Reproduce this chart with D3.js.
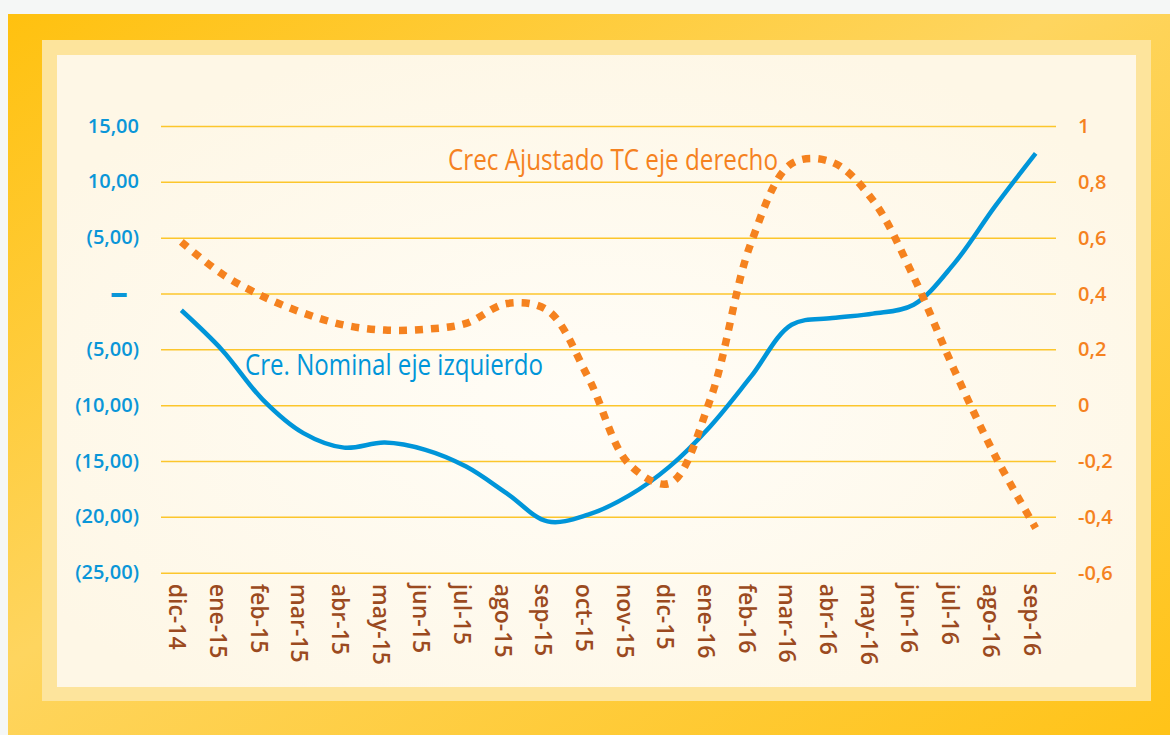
<!DOCTYPE html>
<html>
<head>
<meta charset="utf-8">
<script src="https://cdn.jsdelivr.net/npm/d3@7"></script>
<style>
  body { margin: 0; background: #f5f7f6; }
  svg { display: block; }
  .axis text { font-family: 'Open Sans', sans-serif; font-weight: 600; }
  .left-axis text { font-size: 20px; fill: #0a96d8; }
  .right-axis text { font-size: 20px; fill: #f5821f; }
  .x-axis text { font-size: 23px; fill: #9b4a20; }
  .note { font-family: 'Open Sans', sans-serif; font-size: 30px; }
</style>
</head>
<body>
<div id="chart"></div>
<script>
const width = 1170;
const height = 735;

// categories and series
const months = ['dic-14', 'ene-15', 'feb-15', 'mar-15', 'abr-15', 'may-15', 'jun-15', 'jul-15',
  'ago-15', 'sep-15', 'oct-15', 'nov-15', 'dic-15', 'ene-16', 'feb-16', 'mar-16', 'abr-16',
  'may-16', 'jun-16', 'jul-16', 'ago-16', 'sep-16'];
const nominal = [-1.5, -5.05, -9.5, -12.5, -13.8, -13.35, -14.0, -15.5, -17.9, -20.4, -19.8,
  -18.1, -15.5, -11.9, -7.45, -2.8, -2.2, -1.8, -1.0, 2.7, 7.8, 12.55];
const ajustado = [0.585, 0.47, 0.39, 0.33, 0.287, 0.269, 0.272, 0.293, 0.364, 0.34, 0.10,
  -0.21, -0.28, 0.02, 0.58, 0.865, 0.87, 0.734, 0.46, 0.126, -0.18, -0.44];

const leftTicks = [15, 10, 5, 0, -5, -10, -15, -20, -25];
const leftTickLabels = ['15,00', '10,00', '(5,00)', '\u2013', '(5,00)', '(10,00)', '(15,00)', '(20,00)', '(25,00)'];
const rightTicks = [1, 0.8, 0.6, 0.4, 0.2, 0, -0.2, -0.4, -0.6];
const rightTickLabels = ['1', '0,8', '0,6', '0,4', '0,2', '0', '-0,2', '-0,4', '-0,6'];

const plot = { left: 161, right: 1056, top: 126, bottom: 572.7 };

const svg = d3.select('#chart').
append('svg').
attr('width', width).
attr('height', height);

//Backgrounds: orange frame, light band, cream panel
const defs = svg.append('defs');
const frameGrad = defs.append('linearGradient').attr('id', 'frameGrad').
attr('x1', '0%').attr('y1', '0%').attr('x2', '100%').attr('y2', '100%');
frameGrad.append('stop').attr('offset', '0%').attr('stop-color', '#ffc10f');
frameGrad.append('stop').attr('offset', '45%').attr('stop-color', '#fed55f');
frameGrad.append('stop').attr('offset', '100%').attr('stop-color', '#ffc318');

const panelGrad = defs.append('radialGradient').attr('id', 'panelGrad').
attr('cx', '50%').attr('cy', '55%').attr('r', '60%');
panelGrad.append('stop').attr('offset', '0%').attr('stop-color', '#fffdf7');
panelGrad.append('stop').attr('offset', '100%').attr('stop-color', '#fef7e6');

svg.append('rect').attr('x', 8).attr('y', 14).attr('width', width - 8).attr('height', height - 14).
attr('fill', 'url(#frameGrad)');
svg.append('rect').attr('x', 42).attr('y', 40).attr('width', 1151 - 42).attr('height', 701 - 40).
attr('fill', '#fde49c');
svg.append('rect').attr('x', 57).attr('y', 55).attr('width', 1136 - 57).attr('height', 687 - 55).
attr('fill', 'url(#panelGrad)');

//Scales
const x = d3.scalePoint().domain(months).range([plot.left, plot.right]).padding(0.5);
const yLeft = d3.scaleLinear().domain([-25, 15]).range([plot.bottom, plot.top]);
const yRight = d3.scaleLinear().domain([-0.6, 1]).range([plot.bottom, plot.top]);

//Grid lines
svg.append('g').
attr('class', 'grid').
attr('transform', 'translate(' + plot.left + ',0)').
call(d3.axisLeft(yLeft).tickValues(leftTicks).tickSize(-(plot.right - plot.left)).tickFormat('')).
call(g => g.select('.domain').remove()).
selectAll('line').
attr('stroke', '#fcc62c').
attr('stroke-width', 1.5);

//Left axis
svg.append('g').
attr('class', 'axis left-axis').
attr('transform', 'translate(' + plot.left + ',0)').
call(d3.axisLeft(yLeft).tickValues(leftTicks).tickSize(0).tickPadding(22).
tickFormat((d, i) => leftTickLabels[i])).
call(g => g.select('.domain').remove()).
selectAll('text').
attr('dy', '0.3em').
filter(d => d === 0).
style('font-size', '36px').
style('font-weight', 700).
attr('x', -33);

//Right axis
svg.append('g').
attr('class', 'axis right-axis').
attr('transform', 'translate(' + plot.right + ',0)').
call(d3.axisRight(yRight).tickValues(rightTicks).tickSize(0).tickPadding(22).
tickFormat((d, i) => rightTickLabels[i])).
call(g => g.select('.domain').remove()).
selectAll('text').
attr('dy', '0.33em');

//Month labels, rotated
svg.append('g').
attr('class', 'axis x-axis').
attr('transform', 'translate(0,' + plot.bottom + ')').
call(d3.axisBottom(x).tickSize(0)).
call(g => g.select('.domain').remove()).
selectAll('text').
attr('transform', 'rotate(90)').
attr('text-anchor', 'start').
attr('x', 11).
attr('y', 0).
attr('dy', '0.55em');

//Lines
const nominalLine = d3.line().
x((d, i) => x(months[i])).
y(d => yLeft(d)).
curve(d3.curveCatmullRom.alpha(0.5));

const ajustadoLine = d3.line().
x((d, i) => x(months[i])).
y(d => yRight(d)).
curve(d3.curveCatmullRom.alpha(0.5));

svg.append('path').
datum(nominal).
attr('fill', 'none').
attr('stroke', '#0095d9').
attr('stroke-width', 4.5).
attr('d', nominalLine);

svg.append('path').
datum(ajustado).
attr('fill', 'none').
attr('stroke', '#f5821f').
attr('stroke-width', 7.5).
attr('stroke-dasharray', '8,8').
attr('d', ajustadoLine);

//Series notes
svg.append('text').
attr('class', 'note').
attr('x', 448).
attr('y', 170).
attr('fill', '#f5821f').
attr('textLength', 330).
attr('lengthAdjust', 'spacingAndGlyphs').
text('Crec Ajustado TC eje derecho');

svg.append('text').
attr('class', 'note').
attr('x', 245).
attr('y', 375).
attr('fill', '#0095d9').
attr('textLength', 298).
attr('lengthAdjust', 'spacingAndGlyphs').
text('Cre. Nominal eje izquierdo');
</script>
</body>
</html>
